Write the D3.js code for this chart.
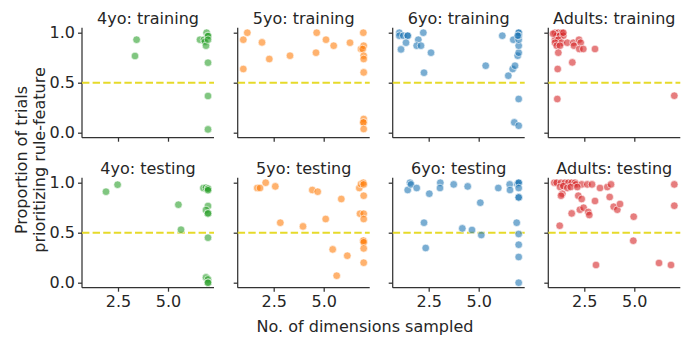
<!DOCTYPE html>
<html>
<head>
<meta charset="utf-8">
<script src="https://cdn.jsdelivr.net/npm/d3@7"></script>
<style>
  body { margin: 0; background: #fff; }
  text { font-family: "DejaVu Sans", sans-serif; fill: #262626; }
</style>
</head>
<body>
<script>
// groups and phases
var groups = ["4yo", "5yo", "6yo", "Adults"];
var phases = ["training", "testing"];
var colors = ["#2ca02c", "#ff7f0e", "#1f77b4", "#d62728"];
var xTicks = [2.5, 5.0];
var yTicks = [0.0, 0.5, 1.0];
var chance = 0.5;

// 4yo
var train4x = [3.43, 3.35, 6.6, 6.8, 6.93, 7.0, 7.0, 6.85, 6.9, 7.0, 7.0, 7.0, 7.0];
var train4y = [0.93, 0.767, 0.93, 0.93, 1.0, 0.967, 0.967, 0.91, 0.87, 0.93, 0.70, 0.367, 0.033];
var test4x = [1.9, 2.48, 5.52, 5.65, 6.77, 6.9, 7.0, 7.0, 7.0, 7.0, 6.9, 7.0, 7.0, 7.0, 6.9, 7.0, 7.0, 7.0];
var test4y = [0.91, 0.98, 0.78, 0.53, 0.947, 0.95, 0.94, 0.94, 0.925, 0.767, 0.727, 0.693, 0.693, 0.45, 0.053, 0.033, 0.0, 0.0];

// 5yo
var train5x = [1.18, 0.98, 0.98, 1.915, 2.28, 3.315, 4.65, 4.615, 5.115, 5.5, 6.315, 6.865, 6.98, 7.0, 6.95,
               7.0, 7.0, 7.0, 7.0, 7.0, 6.98, 7.0];
var train5y = [1.0, 0.93, 0.637, 0.903, 0.737, 0.77, 1.0, 0.80, 0.93, 0.87, 0.90, 0.837, 1.0, 0.87, 0.837,
               0.77, 0.737, 0.603, 0.137, 0.103, 0.103, 0.037];
var test5x = [1.68, 1.815, 2.1, 2.58, 2.83, 3.965, 4.43, 4.7, 5.1, 5.45, 5.65, 5.88, 6.18, 6.78, 6.865,
              6.98, 7.0, 7.0, 6.815, 7.0, 7.0, 7.0, 6.98, 7.0, 7.0, 7.0];
var test5y = [0.947, 0.947, 1.0, 0.963, 0.60, 0.563, 0.927, 0.91, 0.637, 0.333, 0.07, 0.837, 0.27, 0.947, 0.987,
              1.0, 0.983, 0.87, 0.69, 0.69, 0.637, 0.42, 0.42, 0.405, 0.343, 0.2];

// 6yo
var train6x = [1.03, 1.03, 1.23, 1.45, 1.45, 1.115, 1.365, 1.98, 1.9, 2.115, 2.23, 2.615, 2.265,
               5.35, 6.18, 6.48, 6.7, 6.815, 6.73, 6.95, 7.0, 7.0, 7.0, 7.0, 7.0, 7.0, 6.95, 7.0, 6.78, 7.0];
var train6y = [1.0, 0.97, 0.97, 0.97, 0.97, 0.833, 0.90, 0.93, 0.87, 0.87, 1.0, 0.80, 0.60,
               0.67, 0.97, 0.57, 0.637, 0.67, 0.93, 0.77, 0.80, 0.87, 0.93, 1.0, 1.0, 0.97, 0.97, 0.337, 0.103, 0.07];
var test6x = [1.45, 1.565, 1.615, 1.9, 2.53, 2.265, 2.35, 3.08, 3.065, 3.75, 4.18, 4.45, 4.665, 5.08, 5.13,
              5.98, 6.55, 6.565, 6.93, 7.0, 7.0, 7.0, 7.0, 7.0, 6.9, 7.0, 7.0, 7.0, 7.0];
var test6y = [0.927, 1.0, 0.983, 0.947, 0.89, 0.60, 0.347, 1.0, 0.947, 0.983, 0.543, 0.963, 0.527, 0.80, 0.477,
              0.947, 0.983, 0.927, 0.987, 1.0, 1.0, 0.947, 0.853, 0.853, 0.60, 0.487, 0.38, 0.257, 0.0];

// Adults
var trainAx = [1.035, 1.2, 1.37, 1.12, 1.28, 1.45, 1.035, 1.2, 1.035, 1.37, 1.12, 1.28, 0.94, 1.45,
               1.65, 1.95, 1.985, 2.235, 2.32, 2.25, 2.45, 3.035, 1.2, 1.9, 1.17, 1.15, 7.0];
var trainAy = [1.0, 1.0, 1.0, 0.97, 0.97, 0.97, 0.93, 0.93, 0.90, 0.90, 0.87, 0.87, 0.99, 1.0,
               0.90, 0.90, 0.87, 0.93, 0.90, 0.837, 0.837, 0.837, 0.80, 0.703, 0.637, 0.337, 0.37];
var testAx = [1.0, 1.12, 1.335, 1.535, 1.7, 1.87, 2.035, 2.085, 2.37, 2.65, 2.885, 1.285, 1.45, 1.65, 1.82,
              2.15, 3.285, 3.65, 3.835, 2.2, 2.37, 1.4, 1.335, 1.87, 2.28, 2.465, 2.7, 2.75, 3.035, 3.77,
              3.97, 4.15, 4.285, 4.97, 4.95, 1.27, 3.085, 6.235, 6.835, 7.0, 7.0];
var testAy = [1.0, 1.0, 1.0, 1.0, 1.0, 1.0, 1.0, 0.983, 0.983, 0.983, 0.983, 0.957, 0.967, 0.947, 0.957,
              0.957, 0.947, 0.957, 0.983, 0.87, 0.837, 0.89, 0.87, 0.693, 0.73, 0.75, 0.707, 0.677, 0.817, 0.857,
              0.76, 0.73, 0.787, 0.66, 0.42, 0.57, 0.177, 0.197, 0.177, 0.983, 0.77];

var xs = [[train4x, test4x], [train5x, test5x], [train6x, test6x], [trainAx, testAx]];
var ys = [[train4y, test4y], [train5y, test5y], [train6y, test6y], [trainAy, testAy]];

var width = 690, height = 337;
var panelLeft = [82, 237.7, 392.7, 548.3];
var panelTop = [27.7, 177.7];
var pw = 132, ph = 110;

var svg = d3.select("body").append("svg")
    .attr("width", width)
    .attr("height", height);

var x = d3.scaleLinear().domain([0.7, 7.3]).range([0, pw]);
var y = d3.scaleLinear().domain([-0.05, 1.05]).range([ph, 0]);

groups.forEach(function(g, col) {
  phases.forEach(function(p, row) {
    var ax = svg.append("g")
        .attr("transform", "translate(" + panelLeft[col] + "," + panelTop[row] + ")");

    var xAxis = d3.axisBottom(x).tickValues(xTicks).tickSize(4).tickPadding(4)
        .tickFormat(row == 1 ? d3.format(".1f") : "");
    var yAxis = d3.axisLeft(y).tickValues(yTicks).tickSize(4).tickPadding(3)
        .tickFormat(col == 0 ? d3.format(".1f") : "");

    var gx = ax.append("g").attr("transform", "translate(0," + ph + ")").call(xAxis);
    var gy = ax.append("g").call(yAxis);
    [gx, gy].forEach(function(a) {
      a.select(".domain").attr("stroke", "#333").attr("stroke-width", 1.25);
      a.selectAll(".tick line").attr("stroke", "#333").attr("stroke-width", 1.25);
      a.selectAll(".tick text").attr("fill", "#262626")
          .style("font-size", "16px").style("font-family", "DejaVu Sans");
    });
    // no end caps on the spines
    gx.select(".domain").attr("d", "M0,0H" + pw);
    gy.select(".domain").attr("d", "M0," + ph + "V0");

    ax.append("line")
        .attr("x1", 0).attr("x2", pw)
        .attr("y1", y(chance)).attr("y2", y(chance))
        .attr("stroke", "#e6da2a")
        .attr("stroke-width", 2)
        .attr("stroke-dasharray", "7.4,3.2");

    var pts = xs[col][row].map(function(v, i) { return [v, ys[col][row][i]]; });
    ax.selectAll("circle")
        .data(pts)
        .enter()
          .append("circle")
          .attr("cx", function(d) { return x(d[0]); })
          .attr("cy", function(d) { return y(d[1]); })
          .attr("r", 3.8)
          .attr("fill", colors[col])
          .attr("fill-opacity", 0.6)
          .attr("stroke", "#fff")
          .attr("stroke-width", 0.6);

    ax.append("text")
        .attr("x", pw / 2)
        .attr("y", -3.5)
        .attr("text-anchor", "middle")
        .style("font-size", "16px")
        .text(g + ": " + p);
  });
});

svg.append("text")
    .attr("x", 365)
    .attr("y", 331.5)
    .attr("text-anchor", "middle")
    .style("font-size", "16px")
    .text("No. of dimensions sampled");

var ylab = svg.append("text")
    .attr("transform", "translate(0,160) rotate(-90)")
    .attr("text-anchor", "middle")
    .style("font-size", "16px");
ylab.append("tspan").attr("x", 0).attr("y", 26.5).text("Proportion of trials");
ylab.append("tspan").attr("x", 0).attr("y", 45).text("prioritizing rule-feature");
</script>
</body>
</html>
